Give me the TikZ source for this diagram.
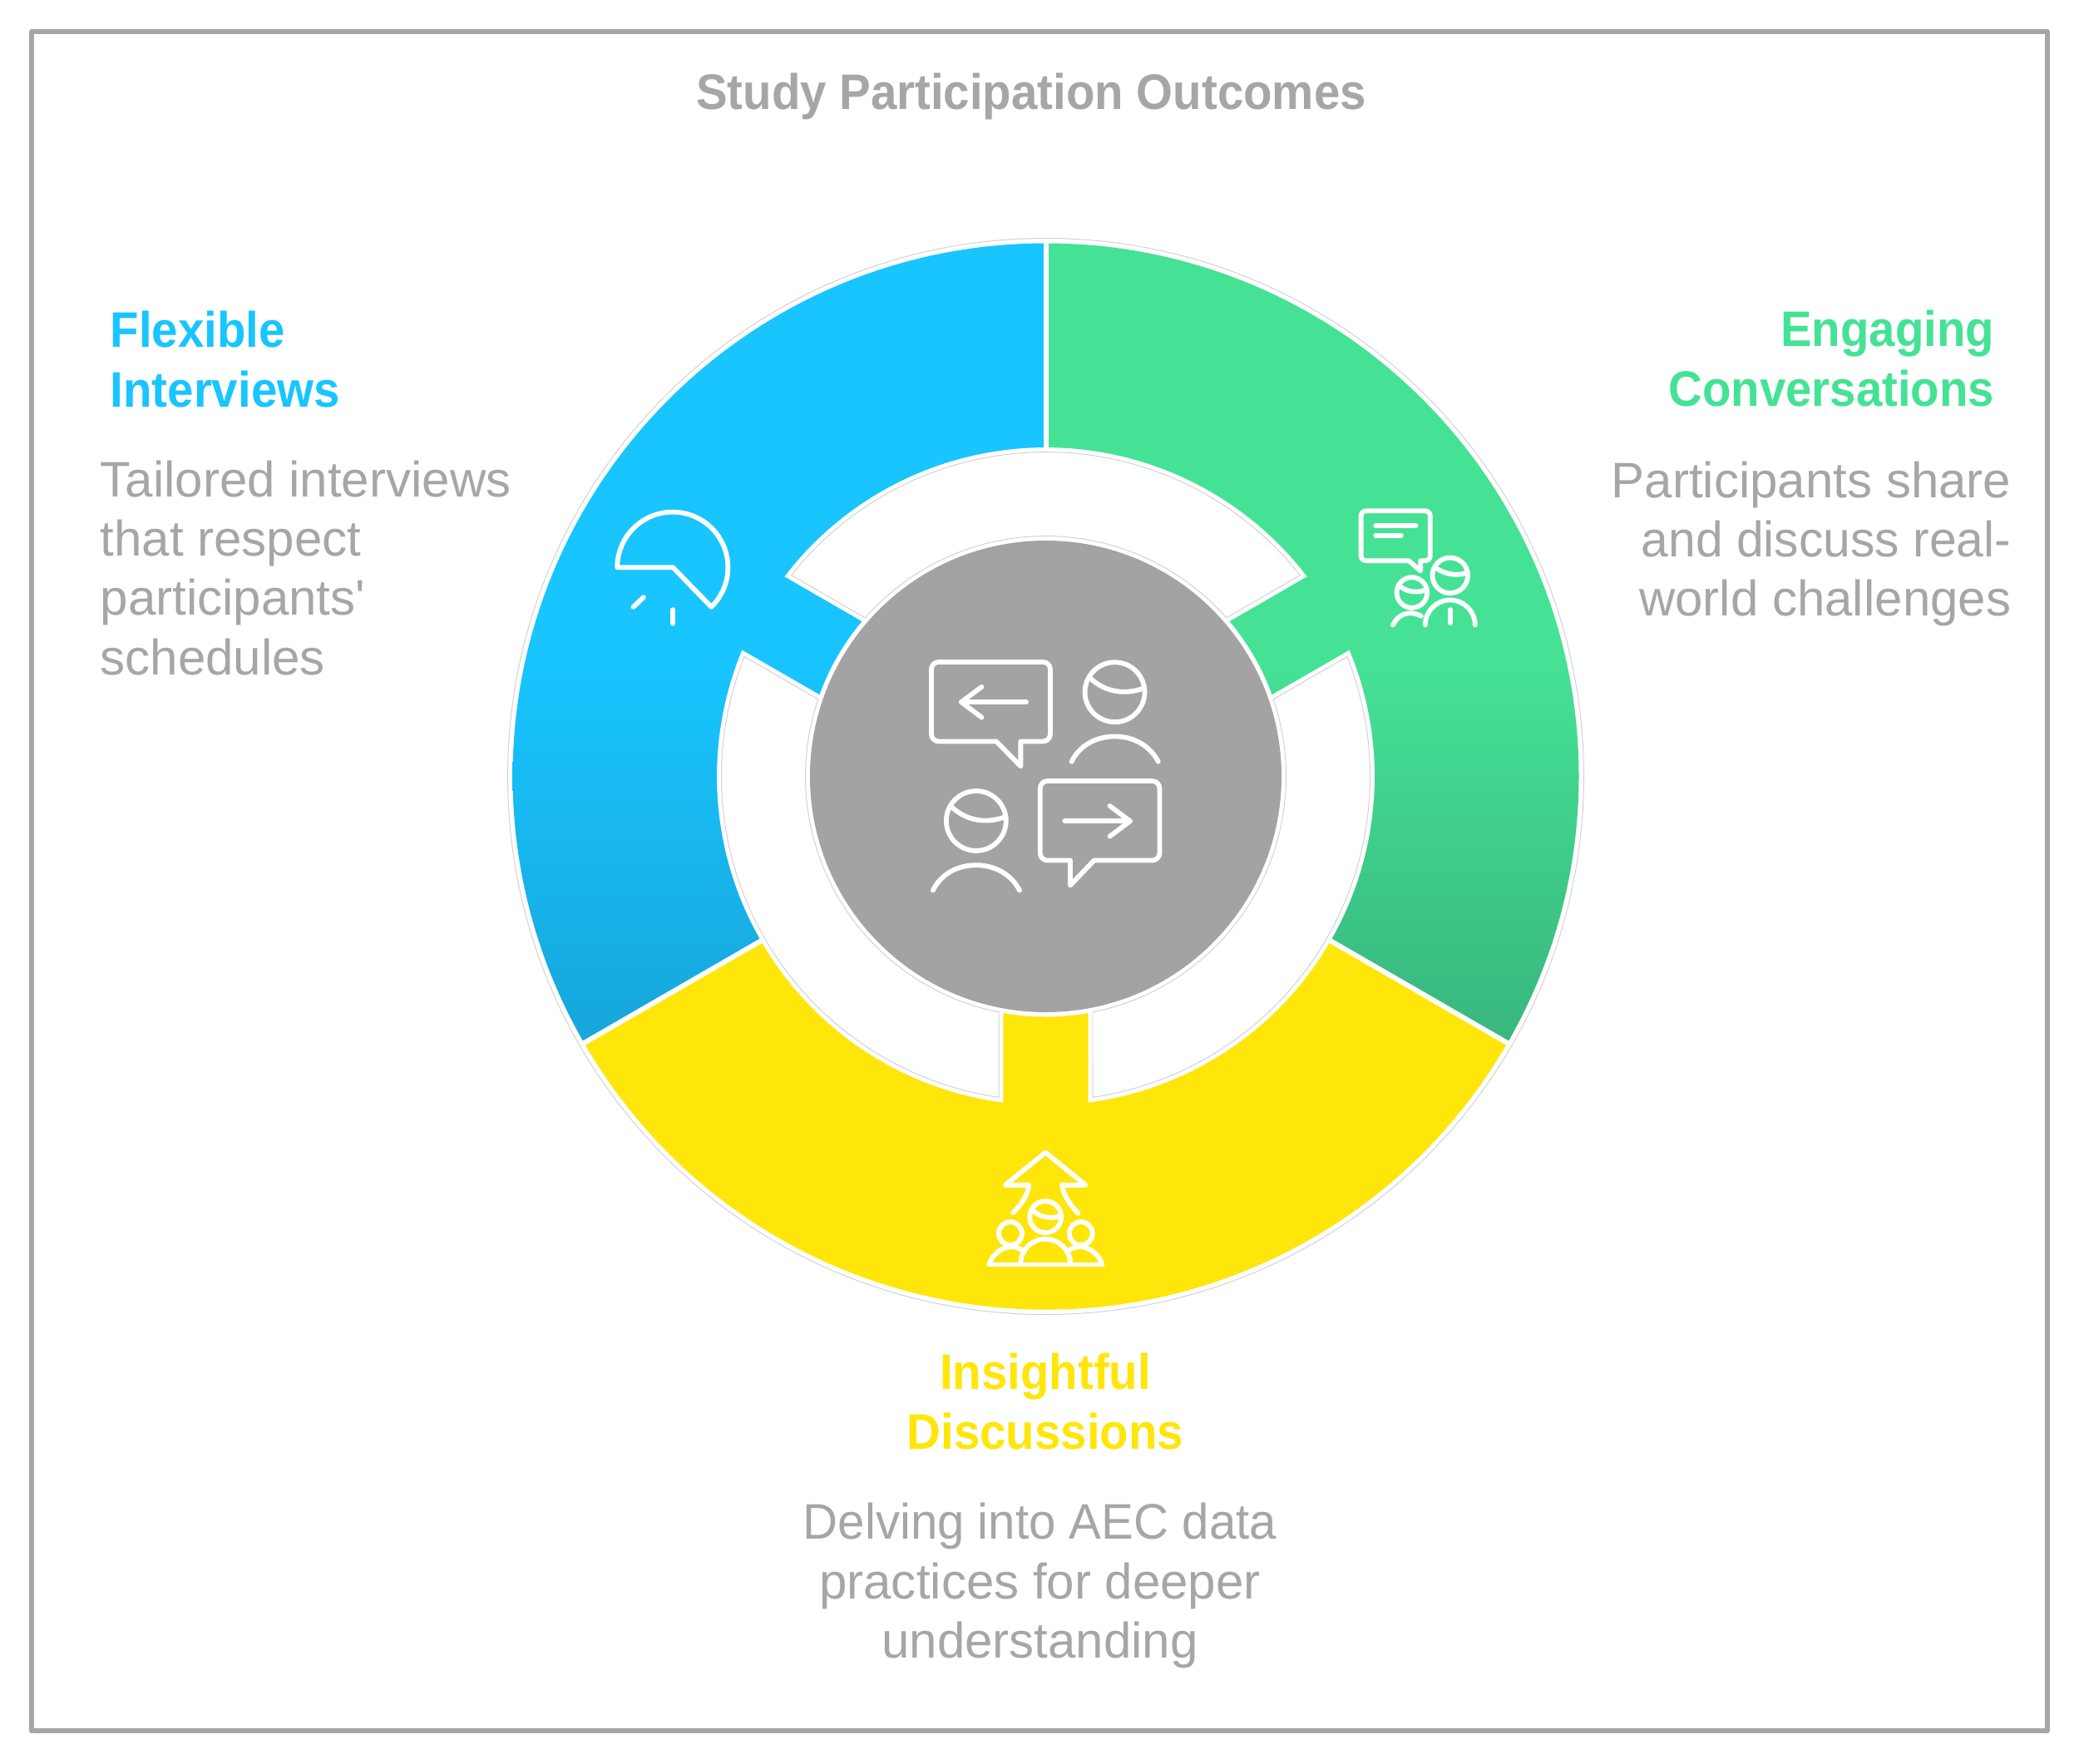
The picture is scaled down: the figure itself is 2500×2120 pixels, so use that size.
\documentclass[tikz,border=0pt]{standalone}
\usepackage{fontspec}
\setmainfont{Liberation Sans}[Ligatures=TeXOff,BoldFeatures={FakeStretch=0.94}]
\definecolor{cblue}{HTML}{18C5FF}
\definecolor{cblued}{HTML}{17A6DA}
\definecolor{cgreen}{HTML}{45E296}
\definecolor{cgreend}{HTML}{38B67E}
\definecolor{cyellow}{HTML}{FEE60A}
\definecolor{cgray}{HTML}{A3A3A3}
\definecolor{ctext}{HTML}{A6A6A6}
\definecolor{chair}{HTML}{D2D2D2}
\newcommand{\txtfont}{\fontsize{17.07pt}{20.2pt}\selectfont}
\pgfdeclareverticalshading{blueramp}{100bp}{color(0bp)=(cblued); color(25bp)=(cblued); color(49bp)=(cblue); color(100bp)=(cblue)}
\pgfdeclareverticalshading{greenramp}{100bp}{color(0bp)=(cgreend); color(25bp)=(cgreend); color(49bp)=(cgreen); color(100bp)=(cgreen)}
\tikzset{
  icon/.style={draw=white,line width=1.65pt,line cap=round,line join=round},
  hair/.style={draw=chair,line width=0.28pt},
  sector/.style={fill=white,draw=white,line width=3.1pt,line join=miter},
  head/.style={inner sep=0pt,font=\txtfont\bfseries},
  desc/.style={inner sep=0pt,font=\txtfont,text=ctext},
  person/.pic={
    \draw[icon] (873,247) circle[radius=108];
    \draw[icon] (785,197) .. controls (830,240) and (900,262) .. (980,232);
    \draw[icon] (717,498) .. controls (745,440) and (805,407) .. (873,407) .. controls (940,407) and (1000,440) .. (1030,498);
  }
}
\begin{document}
\begin{tikzpicture}[x=0.01cm,y=-0.01cm]
\useasboundingbox (0,0) rectangle (2500,2120);
\fill[white] (0,0) rectangle (2500,2120);
\draw[draw=ctext,line width=1.7pt,line join=round] (38,38) rectangle (2462,2081);

\begin{scope}[shift={(1257.5,933.5)},y=0.01cm]
  \draw[hair] (0,0) circle[radius=647];
  \shade[shading=blueramp] (0,0) -- (90:641) arc[start angle=90,end angle=210,radius=641] -- cycle;
  \shade[shading=greenramp] (0,0) -- (90:641) arc[start angle=90,end angle=-30,radius=641] -- cycle;
  \fill[cyellow] (0,0) -- (210:641) arc[start angle=210,end angle=330,radius=641] -- cycle;
  \draw[white,line width=1.7pt] (0,0) -- (90:644);
  \draw[white,line width=1.7pt] (0,0) -- (210:644);
  \draw[white,line width=1.7pt] (0,0) -- (330:644);
  \fill[white] (0,0) circle[radius=289];
  \foreach \a/\b/\c/\d in {141.67/38.33/41.27/138.73,261.67/158.33/161.27/258.73,381.67/278.33/281.27/378.73}{
    \draw[sector] (\a:390) arc[start angle=\a,end angle=\b,radius=390] -- (\c:289) arc[start angle=\c,end angle=\d,radius=289] -- cycle;
    \draw[hair] (\a:390) arc[start angle=\a,end angle=\b,radius=390] -- (\c:289) arc[start angle=\c,end angle=\d,radius=289] -- cycle;
  }
  \fill[cgray] (0,0) circle[radius=283.5];
\end{scope}

% centre icon
\begin{scope}[shift={(1050,750)},x=0.003333cm,y=-0.003333cm]
  \draw[icon] (445,425) -- (533,515) -- (533,425) -- (590,425) [rounded corners=0.09cm] -- (640,425) -- (640,138) -- (210,138) -- (210,425) -- (300,425) [sharp corners] -- cycle;
  \draw[icon] (553,283) -- (318,283);
  \draw[icon] (392,228) -- (318,283) -- (392,338);
  \pic {person};
  \pic at (-501,465) {person};
  \draw[icon] (798,855) -- (712,945) -- (712,855) -- (680,855) [rounded corners=0.09cm] -- (603,855) -- (603,568) -- (1035,568) -- (1035,855) -- (900,855) [sharp corners] -- cycle;
  \draw[icon] (692,713) -- (928,713);
  \draw[icon] (855,658) -- (928,713) -- (855,768);
\end{scope}

% clock icon (blue)
\begin{scope}[shift={(700,590)},x=0.003333cm,y=-0.003333cm]
  \draw[icon] (328,277) -- (127,277) arc[start angle=180,end angle=405.6,radius=200] -- cycle;
  \draw[icon] (185,420) -- (222,385);
  \draw[icon] (328,430) -- (328,480);
\end{scope}

% conversation icon (green)
\begin{scope}[shift={(1600,590)},x=0.003333cm,y=-0.003333cm]
  \draw[icon] (283,253) -- (325,290) -- (325,253) -- (335,253) [rounded corners=0.06cm] -- (360,253) -- (360,73) -- (110,73) -- (110,253) -- (200,253) [sharp corners] -- cycle;
  \draw[icon] (163,127) -- (308,127);
  \draw[icon] (163,162) -- (255,162);
  \draw[icon] (432,306) circle[radius=64];
  \draw[icon] (378,278) .. controls (410,300) and (455,312) .. (495,295);
  \draw[icon] (342,485) arc[start angle=180,end angle=360,radius=90];
  \draw[icon] (432,430) -- (432,478);
  \draw[icon] (294,368) circle[radius=55];
  \draw[icon] (245,340) .. controls (270,365) and (310,372) .. (345,358);
  \draw[icon] (225,485) .. controls (245,445) and (285,430) .. (327,453);
\end{scope}

% group icon (yellow)
\begin{scope}[shift={(1160,1360)},x=0.003333cm,y=-0.003333cm]
  \draw[icon] (175,295) .. controls (210,260) and (230,225) .. (232,195) -- (147,195) -- (292,77) -- (437,195) -- (352,195) .. controls (355,225) and (375,260) .. (410,297);
  \draw[icon] (292,310) circle[radius=57];
  \draw[icon] (243,285) .. controls (270,310) and (305,318) .. (342,308);
  \draw[icon] (202,480) arc[start angle=180,end angle=360,radius=90];
  \draw[icon] (88,482) -- (497,482);
  \draw[icon] (165,370) circle[radius=42];
  \draw[icon] (420,370) circle[radius=42];
  \draw[icon] (88,482) .. controls (105,430) and (165,400) .. (207,430);
  \draw[icon] (378,430) .. controls (420,400) and (480,430) .. (497,482);
\end{scope}

\node[head,text=ctext,anchor=base] (title) at (1240,131) {Study Participation Outcomes};

\node[head,text=cblue,align=left,anchor=base west] (flexhead) at (132,489) {Flexible\\Interviews};
\node[desc,align=left,anchor=base west] (flexdesc) at (120,811) {Tailored interviews\\that respect\\participants'\\schedules};
\node[head,text=cgreen,align=right,anchor=base east] (enghead) at (2399,488) {Engaging\\Conversations};
\node[desc,align=right,anchor=base east] (engdesc) at (2419,740.5) {Participants share\\{\addfontfeature{FakeStretch=0.98}and discuss real-}\\world challenges};
\node[head,text=cyellow,align=center,anchor=base] (inshead) at (1257,1742) {Insightful\\Discussions};
\node[desc,align=center,anchor=base] (insdesc) at (1250.5,1993) {{\addfontfeature{FakeStretch=0.97}Delving into AEC data}\\practices for deeper\\understanding};
\end{tikzpicture}
\end{document}
